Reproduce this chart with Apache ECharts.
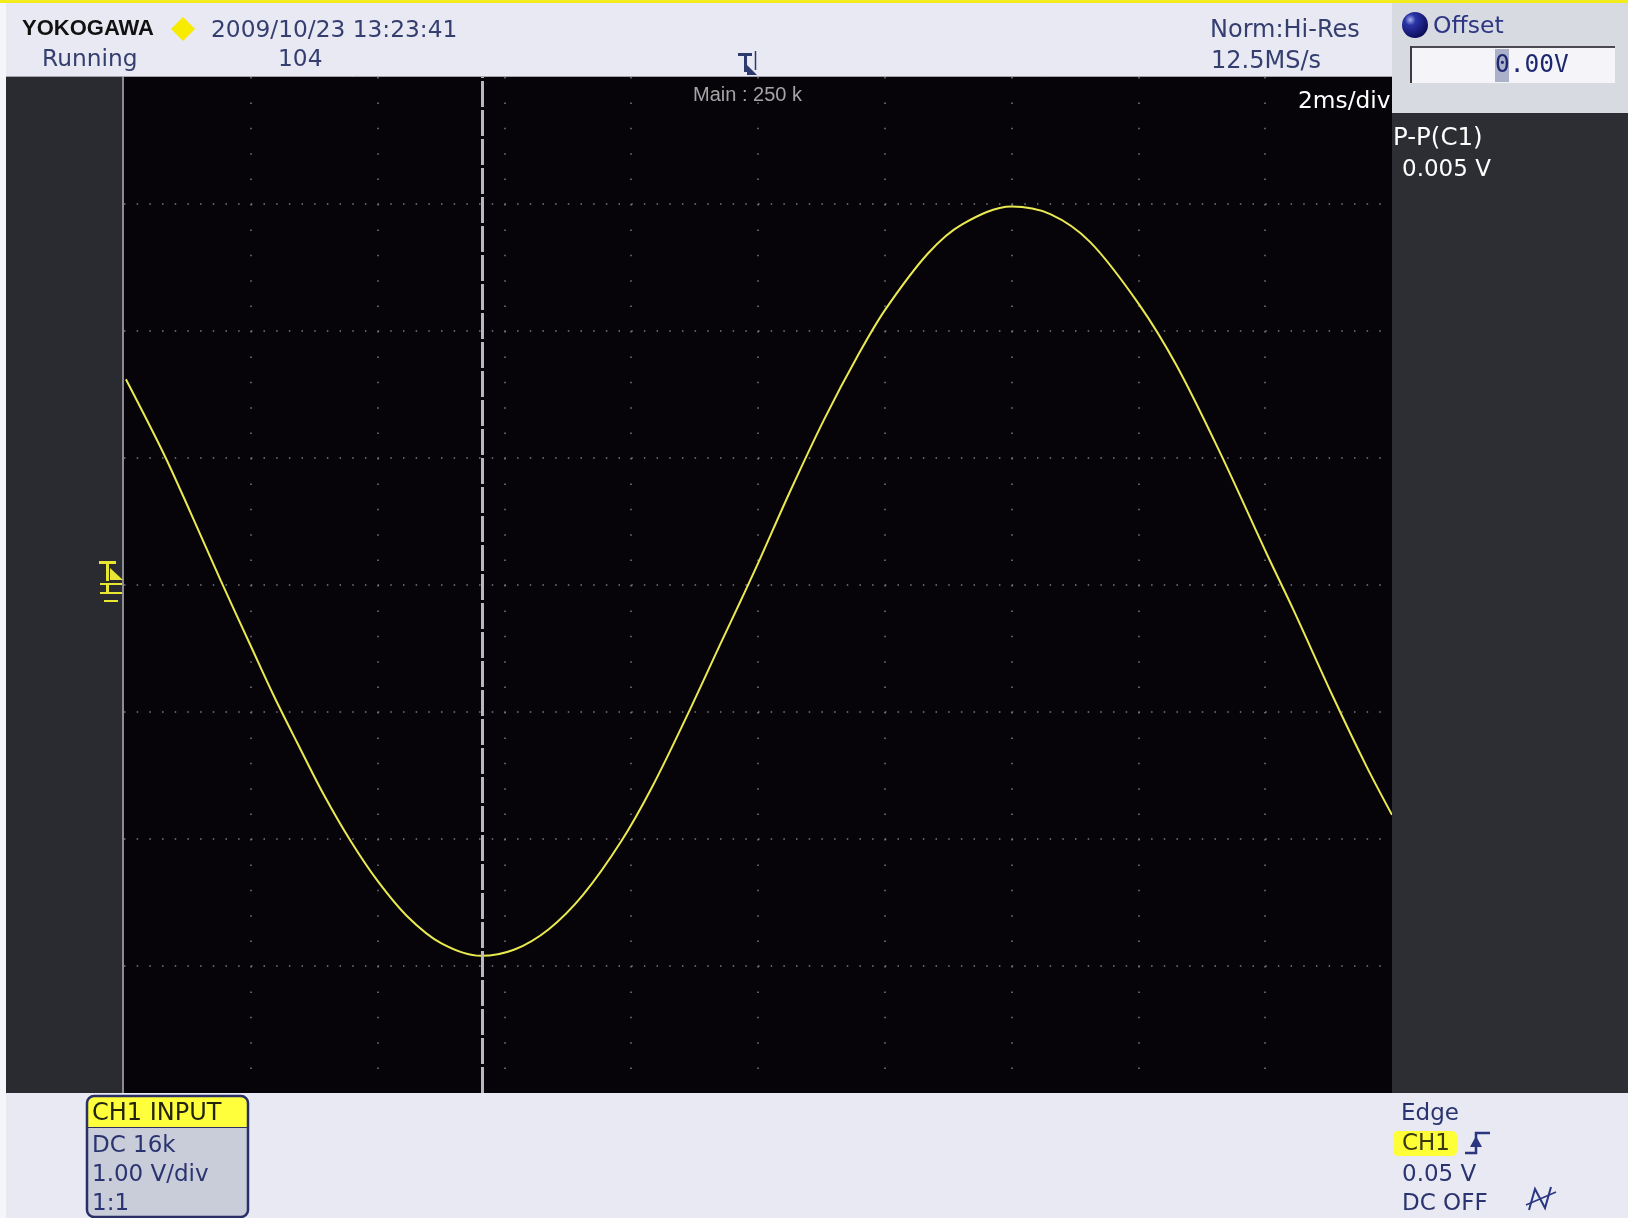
<!DOCTYPE html>
<html>
<head>
<meta charset="utf-8">
<script src="https://cdn.jsdelivr.net/npm/echarts@6/dist/echarts.min.js"></script>
<style>
html,body{margin:0;padding:0;background:#e9e9f3;}
#chart{width:1628px;height:1218px;}
</style>
</head>
<body>
<div id="chart"></div>
<script>
// ---- data (time in ms, 2 ms/div; volts, 1 V/div) ----
var timeMs = [0.03, 0.63, 1.05, 1.53, 2.0, 2.37, 2.73, 3.15, 3.58, 4.0, 4.47, 5.0, 5.63,
  6.16, 6.70, 7.24, 7.84, 8.33, 8.87, 9.42, 9.74, 10.0, 10.50, 11.05, 11.59, 12.01,
  12.68, 13.22, 14.0, 14.61, 15.24, 16.01, 16.60, 17.29, 18.02, 18.44, 19.07, 19.60, 20.0];
var volts = [1.62, 1.03, 0.57, 0.03, -0.48, -0.88, -1.24, -1.65, -2.02, -2.33, -2.61, -2.82, -2.92,
  -2.87, -2.71, -2.44, -2.02, -1.59, -1.04, -0.45, -0.11, 0.17, 0.73, 1.31, 1.82, 2.17,
  2.61, 2.84, 2.98, 2.92, 2.70, 2.21, 1.73, 1.04, 0.25, -0.19, -0.88, -1.43, -1.81];
var cursorMs = [5.65];
var xTicks = [0, 20, 2];   // min, max, interval (ms)
var yTicks = [-4, 4, 1];   // min, max, interval (V)

var headerTexts = {
  date: '2009/10/23 13:23:41', state: 'Running', count: '104',
  mode: 'Norm:Hi-Res', rate: '12.5MS/s', record: 'Main : 250 k', tdiv: '2ms/div',
  offsetLabel: 'Offset', offsetValue: '0.00V', measName: 'P-P(C1)', measValue: '0.005 V'
};
var chLines = ['CH1 INPUT', 'DC 16k', '1.00 V/div', '1:1'];
var trigLines = ['Edge', 'CH1', '0.05 V', 'DC OFF'];

var chart = echarts.init(document.getElementById('chart'), null, {renderer: 'canvas'});

var F = '"DejaVu Sans", sans-serif';
var txtCol = '#343f70';
function T(text, x, y, size, color, extra, z) {
  var e = {type: 'text', z: z || 50, style: {text: text, x: x, y: y, fill: color || txtCol,
    font: (size || 23) + 'px ' + F, textAlign: 'left', textVerticalAlign: 'middle'}};
  if (extra) { for (var k in extra) e.style[k] = extra[k]; }
  return e;
}
function R(x, y, w, h, fill, z, r) {
  return {type: 'rect', z: z || 5, shape: {x: x, y: y, width: w, height: h, r: r || 0}, style: {fill: fill}};
}
var icon = '#2a3680';

var graphics = [
  // panels
  R(0, 0, 6, 1218, '#f6f6fa', 5),
  R(6, 77, 118, 1016, '#2a2b30', 5),
  R(1392, 113, 236, 980, '#2c2e33', 5),
  R(1392, 3, 236, 110, '#d8dae2', 30),
  R(0, 0, 1628, 3, '#f2ec1c', 31),
  {type: 'line', z: 6, shape: {x1: 6, y1: 76.5, x2: 1392, y2: 76.5}, style: {stroke: '#a4a4ac', lineWidth: 1}},
  {type: 'line', z: 6, shape: {x1: 123, y1: 77, x2: 123, y2: 1093}, style: {stroke: '#8c8c92', lineWidth: 2}},
  // header
  T('YOKOGAWA', 22, 29, 22, '#111111', {font: 'bold 22px "Liberation Sans", Arial, sans-serif'}),
  {type: 'polygon', z: 20, shape: {points: [[183, 17], [195, 29], [183, 41], [171, 29]]}, style: {fill: '#f8ea00'}},
  T(headerTexts.date, 211, 31, 23.3),
  T(headerTexts.state, 42, 60, 23.3),
  T(headerTexts.count, 278, 60, 23.3),
  T(headerTexts.mode, 1210, 31, 24),
  T(headerTexts.rate, 1211, 62, 24),
  // trigger position marker
  R(738, 53, 14, 3, '#2d3a6e', 20),
  R(744, 53, 3, 19, '#2d3a6e', 20),
  {type: 'polygon', z: 20, shape: {points: [[747, 65], [757, 75], [747, 75]]}, style: {fill: '#2d3a6e'}},
  {type: 'line', z: 20, shape: {x1: 755.5, y1: 51, x2: 755.5, y2: 70}, style: {stroke: '#2d3a6e', lineWidth: 1.5}},
  // texts inside the screen
  T(headerTexts.record, 693, 95, 20, '#a4a4a4', {font: '20px "Liberation Sans", Arial, sans-serif'}, 20),
  T(headerTexts.tdiv, 1298, 102, 23.3, '#ffffff', null, 20),
  // ground marker
  R(99, 561, 17, 3, '#e8e632', 20),
  R(106, 561, 3, 20, '#e8e632', 20),
  {type: 'polygon', z: 20, shape: {points: [[110, 568], [123, 580], [110, 580]]}, style: {fill: '#e8e632'}},
  R(100, 583, 22, 2, '#e8e632', 20),
  R(106, 585, 3, 7, '#e8e632', 20),
  R(100, 592, 22, 2, '#e8e632', 20),
  R(104, 600, 14, 2, '#e8e632', 20),
  // offset panel
  {type: 'circle', z: 35, shape: {cx: 1415, cy: 25, r: 13}, style: {fill: {type: 'radial', x: 0.32, y: 0.3, r: 0.75,
    colorStops: [{offset: 0, color: '#a8b4ee'}, {offset: 0.28, color: '#2c34a8'}, {offset: 1, color: '#0b0b58'}]}}},
  T(headerTexts.offsetLabel, 1433, 27, 23.5, '#2c3682'),
  R(1410, 46, 205, 37, '#f5f5f9', 35),
  {type: 'line', z: 36, shape: {x1: 1410, y1: 47, x2: 1615, y2: 47}, style: {stroke: '#4a4a50', lineWidth: 2}},
  {type: 'line', z: 36, shape: {x1: 1411, y1: 46, x2: 1411, y2: 83}, style: {stroke: '#3a3a40', lineWidth: 2}},
  R(1495, 49, 14, 33, '#aab1c9', 36),
  T(headerTexts.offsetValue, 1495, 66, 24.5, '#1e2870', {font: '24.5px "DejaVu Sans Mono", monospace'}),
  T(headerTexts.measName, 1393, 139, 24.5, '#ffffff'),
  T(headerTexts.measValue, 1402, 170, 23, '#ffffff'),
  // CH1 input box
  R(87, 1096, 161, 121, '#c9cdd9', 20, 7),
  {type: 'rect', z: 21, shape: {x: 88, y: 1097, width: 159, height: 30, r: [6, 6, 0, 0]}, style: {fill: '#ffff3c'}},
  {type: 'rect', z: 22, shape: {x: 87, y: 1096, width: 161, height: 121, r: 7}, style: {fill: 'none', stroke: '#2a3066', lineWidth: 2.5}},
  {type: 'line', z: 22, shape: {x1: 88, y1: 1127.5, x2: 247, y2: 1127.5}, style: {stroke: '#2a3066', lineWidth: 1}},
  T(chLines[0], 92, 1114, 24, '#22240e'),
  T(chLines[1], 92, 1146, 23, '#2a3470'),
  T(chLines[2], 92, 1175, 23, '#2a3470'),
  T(chLines[3], 92, 1204, 23, '#2a3470'),
  // trigger settings
  T(trigLines[0], 1401, 1114, 23, '#2a3470'),
  R(1393, 1131, 64, 25, '#ffff38', 20, 5),
  T(trigLines[1], 1402, 1144, 23, '#3a3a10'),
  T(trigLines[2], 1402, 1175, 23, '#2a3470'),
  T(trigLines[3], 1402, 1204, 23, '#2a3470'),
  {type: 'polyline', z: 20, shape: {points: [[1465, 1153], [1476, 1153], [1476, 1133], [1490, 1133]]}, style: {stroke: icon, lineWidth: 2.5, fill: 'none'}},
  {type: 'polygon', z: 20, shape: {points: [[1470, 1147], [1482, 1147], [1476, 1136]]}, style: {fill: icon}},
  {type: 'polyline', z: 20, shape: {points: [[1529, 1210], [1535, 1189], [1545, 1208], [1551, 1187]]}, style: {stroke: icon, lineWidth: 2, fill: 'none'}},
  {type: 'line', z: 20, shape: {x1: 1526, y1: 1205, x2: 1556, y2: 1192}, style: {stroke: icon, lineWidth: 1.5}}
];

var option = {
  backgroundColor: '#e9e9f3',
  animation: false,
  grid: {left: 124, top: 77, width: 1268, height: 1016, show: true, backgroundColor: '#060409', borderWidth: 0, containLabel: false},
  xAxis: {
    type: 'value', min: xTicks[0], max: xTicks[1], interval: xTicks[2],
    axisLine: {show: false}, axisTick: {show: false}, axisLabel: {show: false},
    splitLine: {show: true, showMinLine: false, showMaxLine: false,
      lineStyle: {color: '#7a7a80', width: 1.5, type: [1.5, 23.9]}}
  },
  yAxis: {
    type: 'value', min: yTicks[0], max: yTicks[1], interval: yTicks[2],
    axisLine: {show: false}, axisTick: {show: false}, axisLabel: {show: false},
    splitLine: {show: true, showMinLine: false, showMaxLine: false,
      lineStyle: {color: '#7a7a80', width: 1.5, type: [1.5, 11.18]}}
  },
  series: [{
    type: 'line',
    data: timeMs.map(function (t, i) { return [t, volts[i]]; }),
    showSymbol: false,
    smooth: 0.33,
    lineStyle: {color: '#eaea50', width: 2},
    z: 3,
    markLine: {
      silent: true, symbol: ['none', 'none'], label: {show: false},
      lineStyle: {color: '#bcb5c2', width: 3, type: [26, 3]},
      data: cursorMs.map(function (c) { return {xAxis: c}; })
    }
  }],
  graphic: {elements: graphics}
};
chart.setOption(option);
</script>
</body>
</html>
